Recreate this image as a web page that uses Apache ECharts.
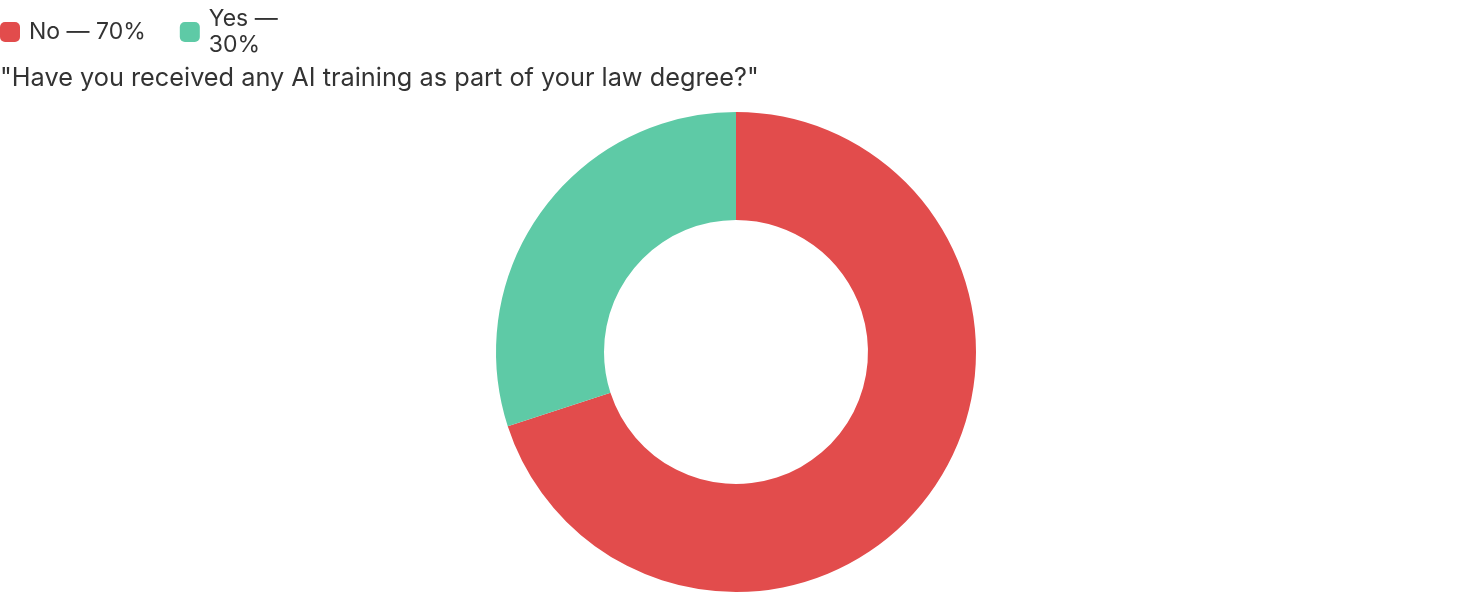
<!DOCTYPE html>
<html><head><meta charset="utf-8">
<script src="https://cdn.jsdelivr.net/npm/echarts@6/dist/echarts.min.js"></script>
<style>html,body{margin:0;padding:0;background:#fff}#c{width:1472px;height:608px}</style>
</head><body><div id="c"></div>
<script>
const categories = ["No", "Yes"];
const values = [70, 30];
const legendLabels = ["No — 70%", "Yes —\n30%"];
const titleText = "\"Have you received any AI training as part of your law degree?\"";
const colors = ["#e24c4c", "#5ecaa6"];

const chart = echarts.init(document.getElementById('c'));
chart.setOption({
  animation: false,
  title: {
    text: titleText, left: -5, top: 61,
    textStyle: { fontFamily: 'Inter', fontSize: 25.3, fontWeight: 'normal', color: '#333' }
  },
  legend: {
    left: 0, top: 6, icon: 'roundRect', itemWidth: 20, itemHeight: 20, itemGap: 34,
    padding: 0,
    formatter: n => legendLabels[categories.indexOf(n)],
    textStyle: { fontFamily: 'Inter', fontSize: 23, color: '#333', lineHeight: 26, padding: [0, 0, 0, 4] }
  },
  series: [{
    type: 'pie', center: [736, 352], radius: [132, 240], startAngle: 90,
    label: { show: false }, labelLine: { show: false }, silent: true,
    data: categories.map((c, i) => ({ name: c, value: values[i], itemStyle: { color: colors[i] } }))
  }]
});
</script></body></html>
